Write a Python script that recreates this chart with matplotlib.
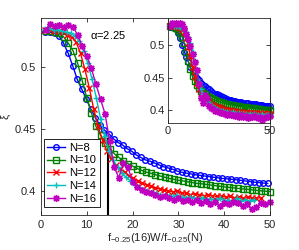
import numpy as np
import matplotlib
matplotlib.use("Agg")
import matplotlib.pyplot as plt

plt.rcParams['font.family'] = ['Liberation Sans', 'DejaVu Sans']
plt.rcParams['mathtext.default'] = 'regular'

# W grid and rescaling factors f_{-0.25}(16)/f_{-0.25}(N)
W = np.arange(1, 51)
sizes = [8, 10, 12, 14, 16]
scale = {8: 0.99, 10: 1.0, 12: 0.96, 14: 0.93, 16: 1.0}

xi_8 = [0.528, 0.528, 0.527, 0.525, 0.519, 0.511, 0.501, 0.490, 0.482, 0.474,
        0.466, 0.459, 0.453, 0.449, 0.446, 0.442, 0.439, 0.437, 0.434, 0.432,
        0.429, 0.427, 0.425, 0.424, 0.4225, 0.421, 0.4195, 0.4185, 0.4175, 0.416,
        0.415, 0.4143, 0.4137, 0.413, 0.4125, 0.412, 0.4115, 0.411, 0.4105, 0.410,
        0.4097, 0.4093, 0.409, 0.4085, 0.408, 0.4075, 0.407, 0.4067, 0.4063, 0.406]
xi_10 = [0.529, 0.529, 0.528, 0.527, 0.524, 0.519, 0.513, 0.503, 0.489, 0.475,
         0.463, 0.452, 0.445, 0.439, 0.434, 0.430, 0.427, 0.424, 0.422, 0.420,
         0.418, 0.4165, 0.415, 0.4142, 0.413, 0.412, 0.411, 0.410, 0.4093, 0.4085,
         0.408, 0.4073, 0.4067, 0.406, 0.4057, 0.4052, 0.4047, 0.4042, 0.4037, 0.4032,
         0.4028, 0.4024, 0.402, 0.4016, 0.4012, 0.4008, 0.4004, 0.400, 0.3997, 0.3994]
xi_12 = [0.530, 0.530, 0.529, 0.529, 0.528, 0.526, 0.524, 0.520, 0.511, 0.498,
         0.483, 0.466, 0.452, 0.441, 0.432, 0.426, 0.421, 0.418, 0.415, 0.412,
         0.410, 0.408, 0.406, 0.405, 0.404, 0.4025, 0.4015, 0.4005, 0.400, 0.399,
         0.4, 0.398, 0.3985, 0.397, 0.3975, 0.397, 0.396, 0.3968, 0.396, 0.3955,
         0.396, 0.395, 0.3955, 0.3945, 0.395, 0.394, 0.3948, 0.3945, 0.394, 0.3945]
xi_14 = [0.531, 0.531, 0.530, 0.530, 0.529, 0.528, 0.527, 0.525, 0.521, 0.513,
         0.503, 0.490, 0.475, 0.458, 0.444, 0.432, 0.425, 0.419, 0.414, 0.411,
         0.408, 0.405, 0.403, 0.401, 0.400, 0.399, 0.398, 0.3965, 0.397, 0.396,
         0.3955, 0.3965, 0.395, 0.3945, 0.395, 0.394, 0.3935, 0.3945, 0.393, 0.3935,
         0.3925, 0.394, 0.392, 0.3925, 0.391, 0.394, 0.3915, 0.393, 0.392, 0.393]
xi_16 = [0.530, 0.535, 0.533, 0.534, 0.532, 0.534, 0.532, 0.526, 0.517, 0.509,
         0.499, 0.486, 0.474, 0.462, 0.440, 0.419, 0.4105, 0.4225, 0.419, 0.407,
         0.403, 0.401, 0.399, 0.398, 0.397, 0.395, 0.396, 0.394, 0.393, 0.394,
         0.392, 0.393, 0.391, 0.393, 0.390, 0.392, 0.389, 0.391, 0.388, 0.390,
         0.389, 0.391, 0.390, 0.388, 0.389, 0.385, 0.387, 0.390, 0.389, 0.391]
xi = {8: xi_8, 10: xi_10, 12: xi_12, 14: xi_14, 16: xi_16}

colors = {8: (0, 0, 1), 10: (0, 0.5, 0), 12: (1, 0, 0), 14: (0, 0.75, 0.75), 16: (0.75, 0, 0.75)}
markers = {8: 'o', 10: 's', 12: 'x', 14: '+', 16: (8, 2, 0)}
msizes = {8: 4, 10: 4, 12: 4, 14: 4.5, 16: 5}

x_cut = 14.6
alpha_label = r'$\alpha$=2.25'
axcol = (0.15, 0.15, 0.15)

fig = plt.figure(figsize=(2.99, 2.5), dpi=100)
ax = fig.add_axes([0.137, 0.14, 0.766, 0.788])

for N in sizes:
    ax.plot(W * scale[N], xi[N], color=colors[N], marker=markers[N], ms=msizes[N],
            mfc='none', mew=1, lw=1, label='N=%d' % N, clip_on=False)
ax.plot([x_cut, x_cut], [0.3805, 0.442], color='k', lw=1.5, zorder=1)
ax.text(10.7, 0.526, alpha_label, fontsize=8, va='center')

ax.set_xlim(0, 50)
ax.set_ylim(0.3805, 0.5395)
ax.set_xticks([0, 10, 20, 30, 40, 50])
ax.set_yticks([0.4, 0.45, 0.5])
ax.set_yticklabels(['0.4', '0.45', '0.5'])
ax.tick_params(direction='in', top=True, right=True, labelsize=8, colors=axcol,
               length=3, width=0.6)
for s in ax.spines.values():
    s.set_color(axcol)
    s.set_linewidth(0.6)
ax.set_xlabel(r'f$_{-0.25}$(16)W/f$_{-0.25}$(N)', fontsize=8, color=axcol, labelpad=1)
ax.set_ylabel('ξ', fontsize=8, color=axcol, labelpad=3)

leg = ax.legend(loc='lower left', bbox_to_anchor=(0.012, 0.04), borderaxespad=0,
                fontsize=8, handlelength=1.6, handletextpad=0.4, labelspacing=0.25,
                borderpad=0.3, fancybox=False, framealpha=1)
leg.get_frame().set_edgecolor('k')
leg.get_frame().set_linewidth(0.6)

# inset: unscaled W
ins = fig.add_axes([0.562, 0.508, 0.341, 0.42])
for N in sizes:
    ins.plot(W, xi[N], color=colors[N], marker=markers[N], ms=msizes[N],
             mfc='none', mew=1, lw=1, clip_on=False)
ins.set_xlim(0, 50)
ins.set_ylim(0.38, 0.542)
ins.set_xticks([0, 50])
ins.set_yticks([0.4, 0.45, 0.5])
ins.set_yticklabels(['0.4', '0.45', '0.5'])
ins.tick_params(direction='in', top=True, right=True, labelsize=8, colors=axcol,
                length=3, width=0.6, pad=2)
for s in ins.spines.values():
    s.set_color(axcol)
    s.set_linewidth(0.6)

fig.savefig('out.png', dpi=100)
